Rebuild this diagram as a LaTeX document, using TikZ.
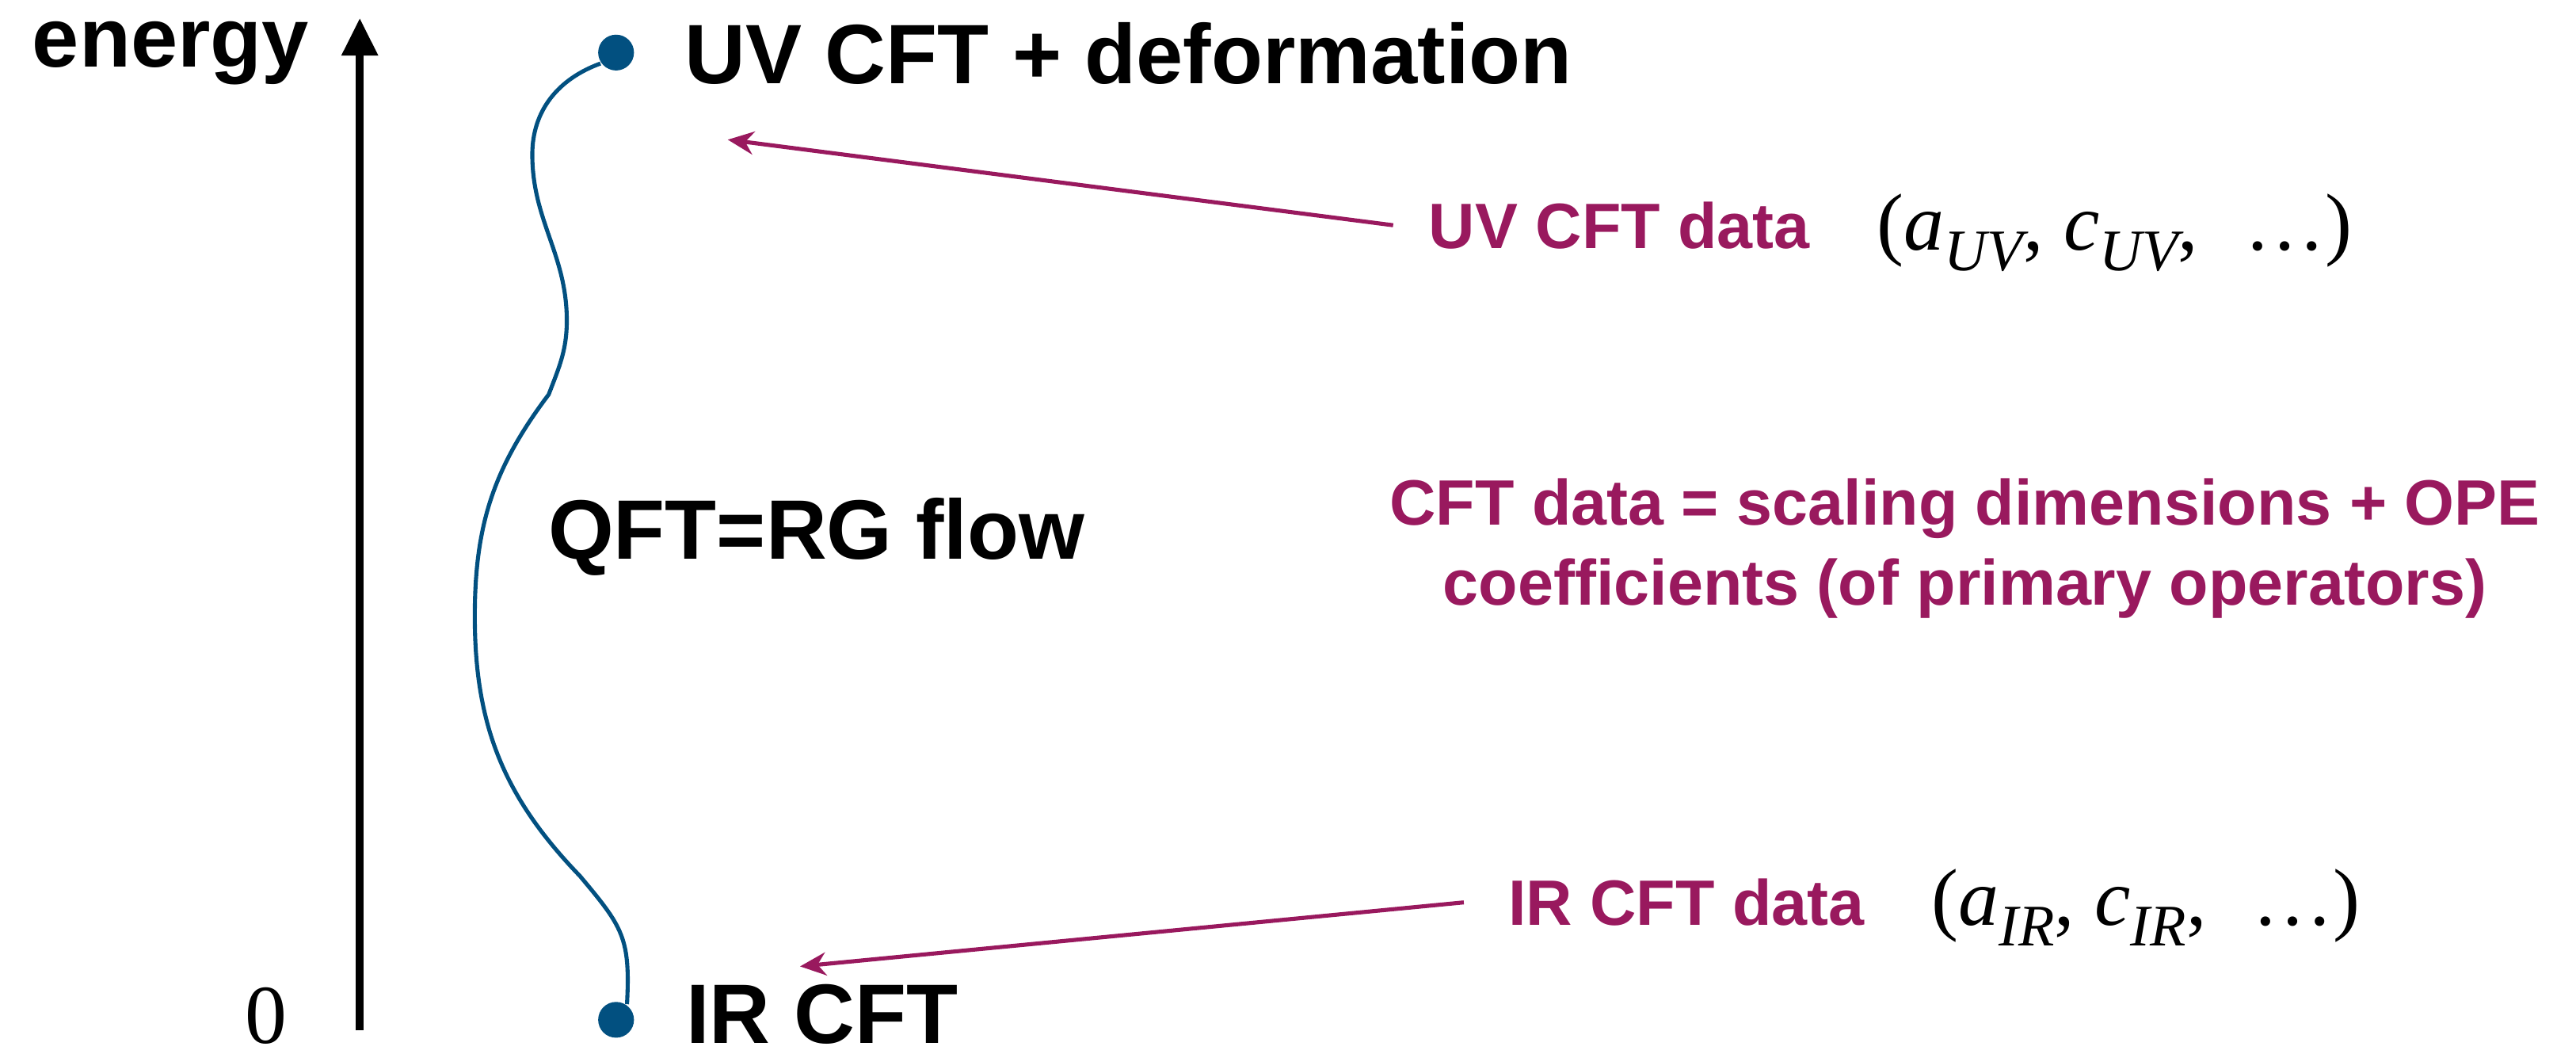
\documentclass[tikz,border=0pt]{standalone}
\usepackage{fontspec}
\setmainfont{Liberation Sans}
\newfontfamily\timesfont{Liberation Serif}
\usepackage{tikz}
\usepackage{xcolor}
\usetikzlibrary{shapes, arrows, arrows.meta, positioning}

\definecolor{flowblue}{RGB}{2,80,128}
\definecolor{datapink}{RGB}{153,25,94}

% lowered italic index for the central charges
\newcommand{\lowsub}[1]{\raisebox{-3.6pt}{\fontsize{10.2}{12}\selectfont\itshape #1}}

\begin{document}
\begin{tikzpicture}[x=0.1mm, y=0.1mm,
        big/.style={font=\fontsize{14.6}{17}\selectfont\bfseries, inner sep=0pt},
        pinktext/.style={font=\fontsize{11.1}{13.8}\selectfont\bfseries, text=datapink},
        tuple/.style={font=\timesfont\fontsize{14}{16}\selectfont, inner sep=0pt},
        fixpt/.style={circle, fill=flowblue, inner sep=0pt, minimum size=6.2pt},
        flow/.style={draw=flowblue, line width=0.7pt},
        datalink/.style={draw=datapink, line width=0.7pt, -{Stealth[length=4.5pt, width=4pt]}}]
    \useasboundingbox (0, 0) rectangle (1568, 641);

    % energy axis
    \coordinate (axbot) at (219, 14);
    \coordinate (axtop) at (219, 630);
    \draw[line width=1.4pt, -{Triangle[length=6.5pt, width=6pt]}] (axbot) -- (axtop);
    \node[big, anchor=base west] (energy) at (19, 600) {energy};
    \node[font=\timesfont\fontsize{14.5}{17}\selectfont, anchor=base, inner sep=0pt] (zero) at (162, 6) {0};

    % fixed points and the flow between them
    \node[fixpt] (uv) at (375, 609) {};
    \node[fixpt] (ir) at (375, 20.5) {};
    \node[big, anchor=base west] (uvlabel) at (416, 590) {UV CFT + deformation};
    \node[big, anchor=base west] (irlabel) at (417, 6) {IR CFT};
    \node[big, anchor=base west] (qft) at (333, 301) {QFT=RG flow};
    \draw[flow] (uv.215) to[out=200, in=90] (324, 547)
        to[out=270, in=90] (345, 446)
        to[out=270, in=69] (334, 401)
        to[out=233, in=90] (289, 266)
        to[out=270, in=134] (353, 108)
        to[out=-50, in=87, looseness=1.25] (ir.55);

    % CFT data at both ends
    \node[pinktext, anchor=base west, inner xsep=6pt, inner ysep=0pt] (uvdata) at (848, 490) {UV CFT data};
    \node[tuple, anchor=base west] (uvtuple) at (1142, 489) {(\textit{a}\lowsub{UV}, \textit{c}\lowsub{UV},\hspace{8pt}\ldots)};
    \node[pinktext, anchor=base west, inner xsep=7.5pt, inner ysep=0pt] (irdata) at (891, 78) {IR CFT data};
    \node[tuple, anchor=base west] (irtuple) at (1175, 78) {(\textit{a}\lowsub{IR}, \textit{c}\lowsub{IR},\hspace{8pt}\ldots)};
    \node[pinktext, align=center, anchor=base, inner sep=0pt] (cftdata) at (1196, 273) {CFT data = scaling dimensions + OPE\\coefficients (of primary operators)};

    \coordinate (uvtip) at (443, 556);
    \coordinate (irtip) at (487, 53);
    \path (uvdata.west) edge[datalink] (uvtip);
    \path (irdata.west) edge[datalink] (irtip);
\end{tikzpicture}
\end{document}
